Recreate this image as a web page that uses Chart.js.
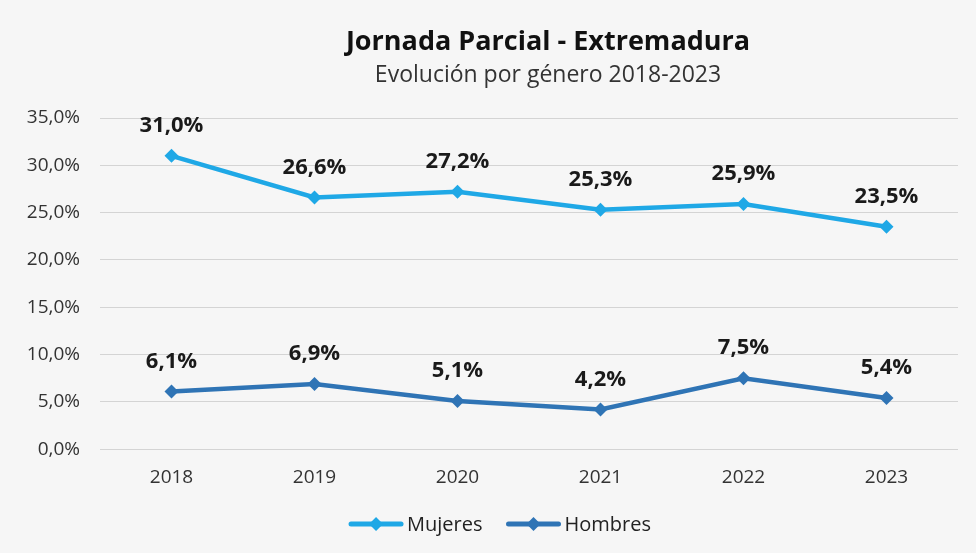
<!DOCTYPE html>
<html><head><meta charset="utf-8">
<script src="https://cdn.jsdelivr.net/npm/chart.js@4/dist/chart.umd.min.js"></script>
<style>html,body{margin:0;padding:0;background:#f6f6f6;}#wrap{width:976px;height:553px;}</style>
</head><body><div id="wrap"><canvas id="c" width="976" height="553"></canvas></div>
<script>
const years = ['2018','2019','2020','2021','2022','2023'];
const mujeres = [31.0, 26.6, 27.2, 25.3, 25.9, 23.5];
const hombres = [6.1, 6.9, 5.1, 4.2, 7.5, 5.4];
const yTicks = [0, 5, 10, 15, 20, 25, 30, 35];
const titleText = 'Jornada Parcial - Extremadura';
const subtitleText = 'Evolución por género 2018-2023';

const FONT = '"Open Sans", "Noto Sans", sans-serif';
const C_M = '#1fa8e6';
const C_H = '#2f74b5';
const fmt = v => v.toFixed(1).replace('.', ',') + '%';

const labelPlugin = {
  id: 'valLabels',
  afterDatasetsDraw(chart){
    const ctx = chart.ctx;
    ctx.save();
    ctx.font = 'bold 22px ' + FONT;
    ctx.fillStyle = '#1a1a1a';
    ctx.textAlign = 'center';
    ctx.textBaseline = 'middle';
    chart.data.datasets.forEach((ds, i) => {
      const meta = chart.getDatasetMeta(i);
      meta.data.forEach((pt, j) => {
        ctx.fillText(fmt(ds.data[j]), pt.x, pt.y - 30);
      });
    });
    ctx.restore();
  }
};

const titlePlugin = {
  id: 'customTitle',
  afterDraw(chart){
    const ctx = chart.ctx;
    ctx.save();
    ctx.textAlign = 'center';
    ctx.textBaseline = 'middle';
    ctx.fillStyle = '#111';
    ctx.font = 'bold 27px ' + FONT;
    ctx.fillText(titleText, 548, 42);
    ctx.fillStyle = '#333';
    ctx.font = '23px ' + FONT;
    ctx.fillText(subtitleText, 548, 75);
    ctx.restore();
  }
};

const legendPlugin = {
  id: 'customLegend',
  afterDraw(chart){
    const ctx = chart.ctx;
    ctx.save();
    ctx.font = '20px ' + FONT;
    ctx.textBaseline = 'middle';
    ctx.textAlign = 'left';
    const y = 524, iconW = 54, gapIcon = 4, gapItem = 24;
    const items = chart.data.datasets.map(ds => ({text: ds.label, color: ds.borderColor}));
    let total = 0;
    items.forEach((it, i) => { total += iconW + gapIcon + ctx.measureText(it.text).width + (i ? gapItem : 0); });
    let x = 500 - total / 2;
    items.forEach((it, i) => {
      if (i) x += gapItem;
      ctx.strokeStyle = it.color; ctx.lineWidth = 5; ctx.lineCap = 'round';
      ctx.beginPath(); ctx.moveTo(x + 2, y); ctx.lineTo(x + iconW - 2, y); ctx.stroke();
      ctx.fillStyle = it.color;
      const cx = x + iconW / 2;
      ctx.beginPath(); ctx.moveTo(cx, y - 7); ctx.lineTo(cx + 7, y); ctx.lineTo(cx, y + 7); ctx.lineTo(cx - 7, y); ctx.closePath(); ctx.fill();
      x += iconW + gapIcon;
      ctx.fillStyle = '#222';
      ctx.fillText(it.text, x, y + 1);
      x += ctx.measureText(it.text).width;
    });
    ctx.restore();
  }
};

const bgPlugin = {
  id: 'bg',
  beforeDraw(chart){
    const ctx = chart.ctx;
    ctx.save();
    ctx.fillStyle = '#f6f6f6';
    ctx.fillRect(0,0,chart.width,chart.height);
    ctx.restore();
  }
};

new Chart(document.getElementById('c'), {
  type: 'line',
  data: {
    labels: years,
    datasets: [
      {label:'Mujeres', data: mujeres, borderColor:C_M, backgroundColor:C_M, borderWidth:4.5,
       pointStyle:'rectRot', pointRadius:7, pointHoverRadius:7, pointBackgroundColor:C_M, pointBorderWidth:0, tension:0},
      {label:'Hombres', data: hombres, borderColor:C_H, backgroundColor:C_H, borderWidth:4.5,
       pointStyle:'rectRot', pointRadius:7, pointHoverRadius:7, pointBackgroundColor:C_H, pointBorderWidth:0, tension:0}
    ]
  },
  options: {
    responsive:false, animation:false,
    layout:{padding:{top:118, right:18, left:0, bottom:55}},
    plugins:{
      title:{display:false},
      tooltip:{enabled:false},
      legend:{display:false}
    },
    scales:{
      x:{
        offset:true,
        grid:{display:false}, border:{display:false},
        ticks:{color:'#333', font:{family:FONT, size:19}, padding:9}
      },
      y:{
        min:0, max:35,
        afterBuildTicks(scale){ scale.ticks = yTicks.map(v=>({value:v})); },
        afterFit(scale){ scale.width = 100; },
        grid:{color:'#d4d4d4', lineWidth:1, drawTicks:false},
        border:{display:false},
        ticks:{color:'#333', font:{family:FONT, size:19}, padding:20, callback:v=>fmt(v)}
      }
    }
  },
  plugins:[bgPlugin, labelPlugin, titlePlugin, legendPlugin]
});
</script></body></html>
